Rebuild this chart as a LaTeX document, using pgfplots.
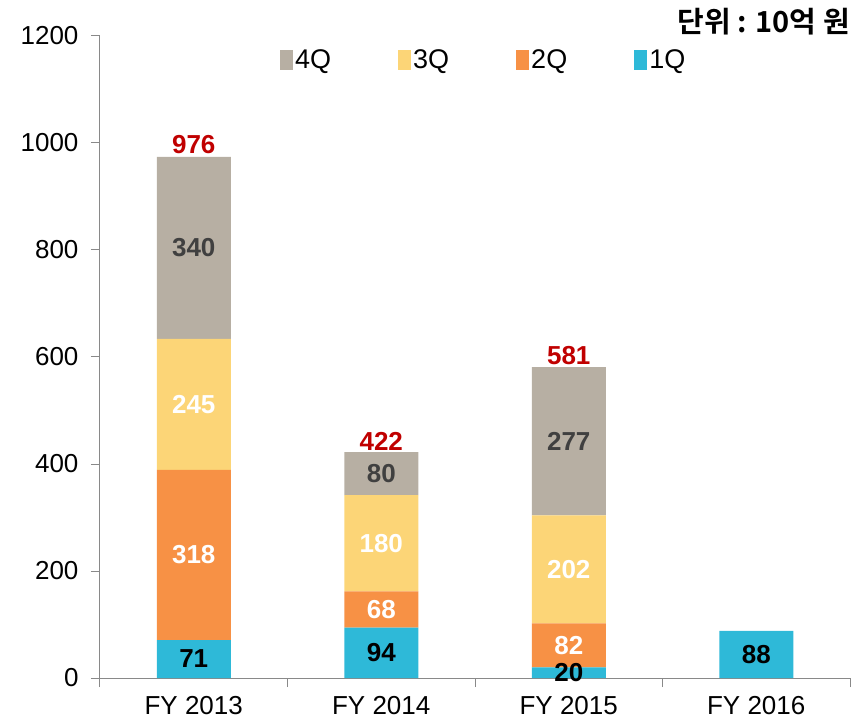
\documentclass[border=0pt]{standalone}
\usepackage{pgfplots}
\pgfplotsset{compat=1.18}
\usepackage{fontspec}
\setmainfont{Liberation Sans}
\newfontfamily\kr{Noto Sans CJK KR}[BoldFont={Noto Sans CJK KR Bold}]
\definecolor{cqone}{HTML}{2EB9D8}
\definecolor{cqtwo}{HTML}{F79145}
\definecolor{cqthree}{HTML}{FCD577}
\definecolor{cqfour}{HTML}{B7AFA3}
\definecolor{axisgray}{HTML}{898989}
\definecolor{darklab}{HTML}{404040}
\definecolor{redlab}{HTML}{C00000}
\begin{document}
\begin{tikzpicture}
\useasboundingbox (0,0) rectangle (865pt,721pt);
\pgfplotsset{base/.style={at={(100pt,43pt)}, anchor=south west, scale only axis,
  width=750pt, height=642pt, xmin=-0.5, xmax=3.5, ymin=0, ymax=1200}}
\begin{axis}[base, ybar stacked, bar width=74pt,
  axis x line=bottom, axis y line=left,
  axis line style={-, draw=axisgray, line width=1pt},
  tick align=outside,
  major tick style={draw=axisgray, line width=1pt},
  ytick={0,200,...,1200},
  y tick label style={font=\fontsize{26}{30}\selectfont, xshift=-9pt},
  /pgf/number format/assume math mode=true,
  /pgf/number format/1000 sep={},
  xtick={-0.5,0.5,1.5,2.5,3.5},
  x tick label as interval,
  xticklabels={FY 2013,FY 2014,FY 2015,FY 2016},
  x tick label style={font=\fontsize{26}{30}\selectfont, yshift=-6pt},
  x axis line style={draw=axisgray},
  xmajorticks=true, ymajorticks=true,
  major tick length=9pt,
  reverse legend,
  legend columns=4,
  legend image code/.code={\fill[#1, draw=none] (0pt,-10pt) rectangle (13pt,10pt);},
  legend style={at={(rel axis cs:0.24,0.9626)}, anchor=west, draw=none, fill=none,
    inner sep=0pt, font=\fontsize{27}{30}\selectfont,
    /tikz/every even column/.append style={column sep=65pt}},
]
\addplot[fill=cqone, draw=none] coordinates {(0,71) (1,94) (2,20) (3,88)};
\addplot[fill=cqtwo, draw=none] coordinates {(0,318) (1,68) (2,82) (3,0)};
\addplot[fill=cqthree, draw=none] coordinates {(0,245) (1,180) (2,202) (3,0)};
\addplot[fill=cqfour, draw=none] coordinates {(0,340) (1,80) (2,277) (3,0)};
\legend{1Q,2Q,3Q,4Q}
\end{axis}
\begin{axis}[base, hide axis, clip=false,
  nodes near coords, point meta=explicit symbolic,
  nodes near coords align={anchor=center},
  every node near coord/.append style={font=\bfseries\fontsize{26}{30}\selectfont, inner sep=0pt}]
\addplot[only marks, mark=none, every node near coord/.append style={text=black}]
  coordinates {(0,35.5)[71] (1,47)[94] (2,10)[20] (3,44)[88]};
\addplot[only marks, mark=none, every node near coord/.append style={text=white}]
  coordinates {(0,230)[318] (0,511.5)[245] (1,128)[68] (1,252)[180] (2,61)[82] (2,203)[202]};
\addplot[only marks, mark=none, every node near coord/.append style={text=darklab}]
  coordinates {(0,804)[340] (1,382)[80] (2,442.5)[277]};
\addplot[only marks, mark=none, nodes near coords align={anchor=south},
  every node near coord/.append style={text=redlab, yshift=2pt}]
  coordinates {(0,976)[976] (1,422)[422] (2,581)[581]};
\node[anchor=base east, inner sep=0pt, font=\kr\bfseries\fontsize{29}{32}\selectfont]
  at (rel axis cs:1,1) [yshift=3pt] {단위 : 10억 원};
\end{axis}
\end{tikzpicture}
\end{document}
